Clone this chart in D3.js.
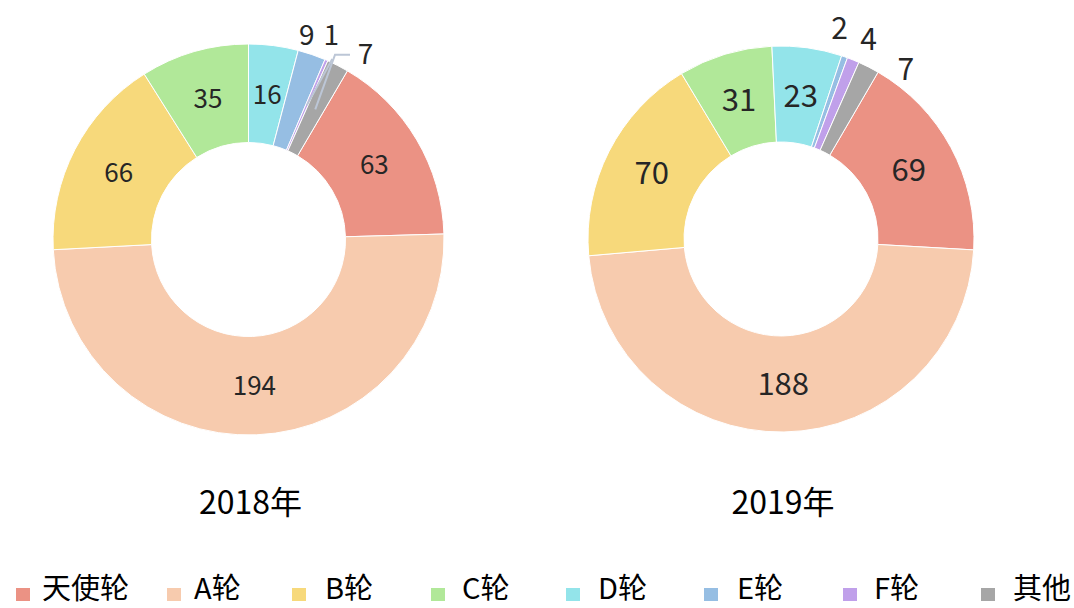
<!DOCTYPE html>
<html>
<head>
<meta charset="utf-8">
<script src="https://cdn.jsdelivr.net/npm/d3@7"></script>
<style>
  body { margin: 0; background: #fff; }
  svg { display: block; font-family: "Noto Sans CJK SC", "Noto Sans", sans-serif; }
</style>
</head>
<body>
<svg id="chart" width="1074" height="608"></svg>
<script>
// categories (legend order) and values per year
var categories = ["天使轮", "A轮", "B轮", "C轮", "D轮", "E轮", "F轮", "其他"];
var colors = ["#eb9284", "#f7cbae", "#f7d97b", "#b1e899", "#93e4ea", "#96bee3", "#c0a0ea", "#a6a6a6"];
var years = ["2018年", "2019年"];
var values2018 = [63, 194, 66, 35, 16, 9, 1, 7];
var values2019 = [69, 188, 70, 31, 23, 2, 4, 7];

var svg = d3.select("#chart");
var width = +svg.attr("width");
var height = +svg.attr("height");

var rad = Math.PI / 180;
var innerR = 97;

// where each donut sits, and how the small slices get their labels
// dStart = angle (deg, clockwise from 12 o'clock) where D轮 begins
var donuts = [
  {
    title: years[0], values: values2018, cx: 248.5, cy: 239.5, r: 195.5, fs: 26, outFs: 28, dStart: 0,
    // index -> outside label at polar (deg, radius), optional leader line
    outside: {
      5: { a: 15.9, r: 213 },
      6: { a: 22.0, r: 221, line: [[24.9, 199]] },
      7: { a: 32.3, r: 219, line: [[25.1, 204]], hx: 350 }
    }
  },
  {
    title: years[1], values: values2019, cx: 781, cy: 239, r: 193, fs: 31, outFs: 30, dStart: -2.7,
    outside: {
      5: { a: 15.5, r: 219 },
      6: { a: 23.7, r: 218 },
      7: { a: 36.3, r: 211 }
    }
  }
];

function polar(cx, cy, deg, r) {
  return [cx + r * Math.sin(deg * rad), cy - r * Math.cos(deg * rad)];
}

donuts.forEach(function (dn) {
  var total = d3.sum(dn.values);
  var before = d3.sum(dn.values.slice(4)); // D..其他 come before 天使轮 going clockwise from top
  var start = dn.dStart * rad + before / total * 2 * Math.PI;

  var pie = d3.pie().sort(null).value(function (d) { return d; })
    .startAngle(start).endAngle(start + 2 * Math.PI);
  var arcs = pie(dn.values);

  var arc = d3.arc().innerRadius(innerR).outerRadius(dn.r);

  var g = svg.append("g").attr("transform", "translate(" + dn.cx + "," + dn.cy + ")");

  g.selectAll("path.slice")
    .data(arcs)
    .enter()
    .append("path")
    .attr("class", "slice")
    .attr("d", arc)
    .attr("fill", function (d, i) { return colors[i]; })
    .attr("stroke", "#fff")
    .attr("stroke-width", 1);

  // leader lines for the crowded labels
  arcs.forEach(function (d, i) {
    var o = dn.outside[i];
    if (!o || !o.line) return;
    var pts = [arc.centroid(d)];
    o.line.forEach(function (p) { pts.push(polar(0, 0, p[0], p[1])); });
    if (o.hx) pts.push([o.hx - dn.cx, pts[pts.length - 1][1]]);
    g.append("path")
      .attr("d", d3.line()(pts))
      .attr("fill", "none")
      .attr("stroke", "#bcc6d6")
      .attr("stroke-width", 2);
  });

  arcs.forEach(function (d, i) {
    var o = dn.outside[i];
    var pos, fs;
    if (o) {
      pos = polar(0, 0, o.a, o.r);
      fs = dn.outFs;
    } else {
      pos = arc.centroid(d);
      fs = dn.fs;
    }
    g.append("text")
      .attr("x", pos[0])
      .attr("y", pos[1])
      .attr("dy", "0.36em")
      .attr("text-anchor", "middle")
      .attr("font-size", fs)
      .attr("fill", "#262626")
      .text(d.data);
  });

  svg.append("text")
    .attr("x", dn.cx + 2)
    .attr("y", 514)
    .attr("text-anchor", "middle")
    .attr("font-size", 32)
    .attr("fill", "#000")
    .text(dn.title);
});

// legend
var legendSquareX = [16, 167, 292, 431, 566, 704, 843, 981];
var legendTextX = [42, 194, 325, 462, 598, 737, 874, 1013];
var legend = svg.append("g").attr("class", "legend");
categories.forEach(function (c, i) {
  legend.append("rect")
    .attr("x", legendSquareX[i])
    .attr("y", 588)
    .attr("width", 14)
    .attr("height", 13)
    .attr("fill", colors[i]);
  legend.append("text")
    .attr("x", legendTextX[i])
    .attr("y", 599)
    .attr("font-size", 29)
    .attr("fill", "#000")
    .text(c);
});
</script>
</body>
</html>
